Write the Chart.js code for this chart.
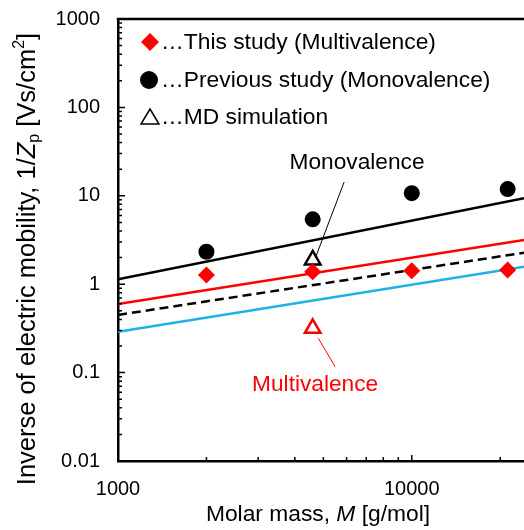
<!DOCTYPE html>
<html>
<head>
<meta charset="utf-8">
<script src="https://cdn.jsdelivr.net/npm/chart.js@4.4.1/dist/chart.umd.min.js"></script>
<style>
  html, body { margin: 0; padding: 0; background: #fff; }
</style>
</head>
<body>
<canvas id="myChart" width="524" height="530"></canvas>
<script>
// values
const molarMass = [2000, 4600, 10000, 21200];
const thisStudy = [1.27, 1.38, 1.42, 1.45];
const previousStudy = [2.33, 5.42, 10.7, 11.9];
const mdMass = [4600, 4600];
const mdValues = [1.88, 0.317];
const mdColors = ['#000000', '#ff0000'];

const fitMass = [1000, 24100];
const fitMono = [1.14, 9.37];
const fitMulti = [0.597, 3.16];
const fitDashed = [0.449, 2.27];
const fitBlue = [0.29, 1.58];

const xTicks = [1000, 10000];
const yTicks = [0.01, 0.1, 1, 10, 100, 1000];

// annotation pointers, in data units
const monoPointer = [[5884, 14.3], [4722, 2.08]];
const multiPointer = [[4809, 0.244], [5482, 0.117]];
const monoLabel = [6512, 23.5];
const multiLabel = [4688, 0.0724];

const FONT = '"Liberation Sans", Arial, sans-serif';
const RED = '#ff0000';
const BLUE = '#1fb0e8';

const pts = (xs, ys) => xs.map((x, i) => ({ x: x, y: ys[i] }));
const pair = p => p.map(q => ({ x: q[0], y: q[1] }));

const drawRich = (ctx, parts, cx, cy) => {
    let total = 0;
    parts.forEach(p => {
        ctx.font = `${p.style || ''} ${p.size}px ${FONT}`;
        p.w = ctx.measureText(p.t).width;
        total += p.w;
    });
    let x = cx - total / 2;
    parts.forEach(p => {
        ctx.font = `${p.style || ''} ${p.size}px ${FONT}`;
        ctx.fillText(p.t, x, cy + (p.dy || 0));
        x += p.w;
    });
};

const noPad = s => {
    s.paddingLeft = 0;
    s.paddingRight = 0;
    s.paddingTop = 0;
    s.paddingBottom = 0;
};

const decorations = {
    id: 'decorations',
    afterDraw(chart) {
        const ctx = chart.ctx;
        const xs = chart.scales.x, ys = chart.scales.y;
        const a = chart.chartArea;
        ctx.save();
        ctx.strokeStyle = '#000';

        // top frame line
        ctx.lineWidth = 2.5;
        ctx.beginPath();
        ctx.moveTo(a.left - 1.25, a.top);
        ctx.lineTo(a.right, a.top);
        ctx.stroke();

        // inward tick marks
        ctx.lineWidth = 1.5;
        ctx.beginPath();
        for (let d = -2; d <= 3; d++) {
            for (let m = 1; m <= 9; m++) {
                const v = m * Math.pow(10, d);
                if (v > 1000) break;
                const py = ys.getPixelForValue(v);
                ctx.moveTo(a.left, py);
                ctx.lineTo(a.left + (m === 1 ? 7 : 4), py);
            }
        }
        for (let d = 3; d <= 4; d++) {
            for (let m = 1; m <= 9; m++) {
                const v = m * Math.pow(10, d);
                if (v > fitMass[1]) break;
                const px = xs.getPixelForValue(v);
                ctx.moveTo(px, a.bottom);
                ctx.lineTo(px, a.bottom - (m === 1 ? 6 : 4));
            }
        }
        ctx.stroke();

        // legend
        ctx.textBaseline = 'middle';
        ctx.textAlign = 'left';
        ctx.font = `22.8px ${FONT}`;
        ctx.fillStyle = RED;
        ctx.beginPath();
        ctx.moveTo(150, 33); ctx.lineTo(159, 42); ctx.lineTo(150, 51); ctx.lineTo(141, 42);
        ctx.closePath(); ctx.fill();
        ctx.fillStyle = '#000';
        ctx.beginPath();
        ctx.arc(149, 80, 9, 0, Math.PI * 2);
        ctx.fill();
        ctx.lineWidth = 1.5;
        ctx.beginPath();
        ctx.moveTo(150, 109); ctx.lineTo(159, 124); ctx.lineTo(141, 124);
        ctx.closePath(); ctx.stroke();
        ctx.fillText('\u2026This study (Multivalence)', 161, 43);
        ctx.fillText('\u2026Previous study (Monovalence)', 161, 81);
        ctx.fillText('\u2026MD simulation', 161, 118);

        // annotation texts
        ctx.textAlign = 'center';
        ctx.font = `22.7px ${FONT}`;
        ctx.fillStyle = '#000';
        ctx.fillText('Monovalence', xs.getPixelForValue(monoLabel[0]), ys.getPixelForValue(monoLabel[1]));
        ctx.fillStyle = RED;
        ctx.fillText('Multivalence', xs.getPixelForValue(multiLabel[0]), ys.getPixelForValue(multiLabel[1]));

        // axis titles
        ctx.fillStyle = '#000';
        ctx.textAlign = 'left';
        drawRich(ctx, [
            { t: 'Molar mass, ', size: 22.8 },
            { t: 'M', size: 22.8, style: 'italic' },
            { t: ' [g/mol]', size: 22.8 }
        ], 318, 515);

        ctx.translate(28, 259);
        ctx.rotate(-Math.PI / 2);
        drawRich(ctx, [
            { t: 'Inverse of electric mobility, 1/', size: 25.5 },
            { t: 'Z', size: 25.5, style: 'italic' },
            { t: 'p', size: 16, dy: 7 },
            { t: ' [Vs/cm', size: 25.5 },
            { t: '2', size: 16, dy: -8 },
            { t: ']', size: 25.5 }
        ], 0, 0);
        ctx.restore();
    }
};

const lineSet = (data, color, dash, width) => ({
    type: 'line',
    data: data,
    borderColor: color,
    borderWidth: width,
    borderDash: dash,
    pointRadius: 0,
    fill: false,
    tension: 0
});

const config = {
    type: 'scatter',
    data: {
        datasets: [
            {
                label: 'This study (Multivalence)',
                data: pts(molarMass, thisStudy),
                pointStyle: 'rectRot',
                pointRadius: 8.5,
                backgroundColor: RED,
                borderColor: RED,
                borderWidth: 0
            },
            {
                label: 'Previous study (Monovalence)',
                data: pts(molarMass, previousStudy),
                pointStyle: 'circle',
                pointRadius: 8,
                backgroundColor: '#000',
                borderColor: '#000',
                borderWidth: 0
            },
            {
                label: 'MD simulation',
                data: pts(mdMass, mdValues),
                pointStyle: 'triangle',
                pointRadius: 9,
                backgroundColor: 'rgba(255,255,255,0)',
                borderColor: mdColors,
                borderWidth: 2.5
            },
            lineSet(pair(monoPointer), '#000', [], 1),
            lineSet(pair(multiPointer), RED, [], 1),
            lineSet(pts(fitMass, fitMono), '#000', [], 2.5),
            lineSet(pts(fitMass, fitMulti), RED, [], 2.5),
            lineSet(pts(fitMass, fitDashed), '#000', [9, 5], 2.5),
            lineSet(pts(fitMass, fitBlue), BLUE, [], 2.5)
        ]
    },
    options: {
        responsive: false,
        animation: false,
        devicePixelRatio: 1,
        layout: { autoPadding: false, padding: { top: 19, right: 0, left: 0, bottom: 0 } },
        plugins: {
            legend: { display: false },
            tooltip: { enabled: false }
        },
        scales: {
            x: {
                type: 'logarithmic',
                position: 'bottom',
                min: fitMass[0],
                max: fitMass[1],
                afterBuildTicks: s => { s.ticks = xTicks.map(v => ({ value: v })); },
                afterFit: s => { s.height = 69; noPad(s); },
                grid: { display: false, drawTicks: false },
                border: { display: true, color: '#000', width: 2.5 },
                ticks: {
                    color: '#000',
                    font: { size: 20, family: FONT },
                    padding: 16,
                    maxRotation: 0,
                    autoSkip: false,
                    callback: v => String(v)
                }
            },
            y: {
                type: 'logarithmic',
                position: 'left',
                min: yTicks[0],
                max: yTicks[yTicks.length - 1],
                afterBuildTicks: s => { s.ticks = yTicks.map(v => ({ value: v })); },
                afterFit: s => { s.width = 118; noPad(s); },
                grid: { display: false, drawTicks: false },
                border: { display: true, color: '#000', width: 2.5 },
                ticks: {
                    color: '#000',
                    font: { size: 20, family: FONT },
                    padding: 18,
                    autoSkip: false,
                    callback: v => String(v)
                }
            }
        }
    },
    plugins: [decorations]
};

const myChart = new Chart(document.getElementById('myChart'), config);
</script>
</body>
</html>
